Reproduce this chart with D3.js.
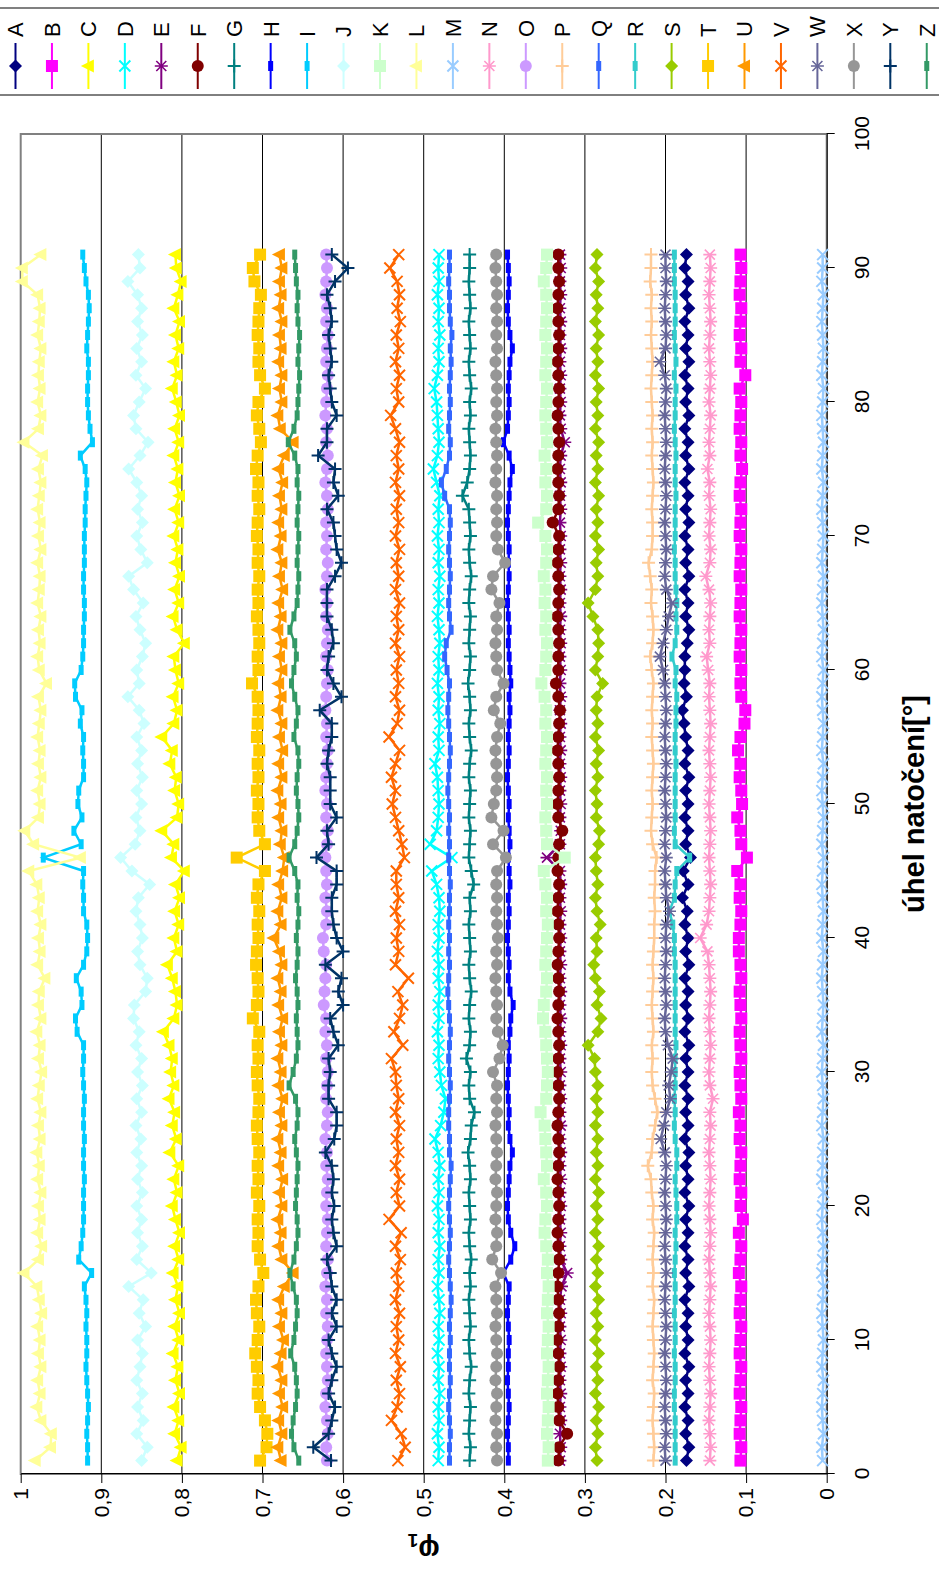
<!DOCTYPE html>
<html><head><meta charset="utf-8">
<script src="https://cdnjs.cloudflare.com/ajax/libs/d3/7.8.5/d3.min.js"></script>
<style>
body{margin:0;background:#fff;}
svg{display:block;}
text{font-family:"Liberation Sans",Arial,sans-serif;fill:#000;}
</style>
</head><body>
<svg id="chart" width="939" height="1570"></svg>
<script>
// ---------- DATA ----------
const angles = [1,2,3,4,5,6,7,8,9,10,11,12,13,14,15,16,17,18,19,20,21,22,23,24,25,26,27,28,29,30,
31,32,33,34,35,36,37,38,39,40,41,42,43,44,45,46,47,48,49,50,51,52,53,54,55,56,57,58,59,60,
61,62,63,64,65,66,67,68,69,70,71,72,73,74,75,76,77,78,79,80,81,82,83,84,85,86,87,88,89,90,91];

const sA = [0.174,0.171,0.175,0.172,0.176,0.172,0.175,0.171,0.176,0.172,
0.175,0.172,0.176,0.171,0.175,0.172,0.176,0.172,0.175,0.171,
0.176,0.172,0.175,0.171,0.176,0.172,0.175,0.172,0.176,0.172,
0.175,0.171,0.176,0.172,0.175,0.172,0.176,0.171,0.175,0.172,
0.176,0.173,0.179,0.172,0.178,0.169,0.175,0.172,0.176,0.172,
0.175,0.171,0.176,0.172,0.175,0.177,0.179,0.174,0.177,0.176,
0.176,0.173,0.171,0.175,0.172,0.176,0.171,0.175,0.172,0.176,
0.171,0.175,0.172,0.176,0.171,0.175,0.172,0.176,0.171,0.175,
0.172,0.176,0.171,0.175,0.172,0.176,0.171,0.175,0.172,0.176,0.174];
const sB = [0.107,0.106,0.108,0.107,0.106,0.108,0.107,0.106,0.108,0.107,
0.106,0.108,0.107,0.106,0.109,0.107,0.106,0.109,0.104,0.107,
0.106,0.108,0.107,0.106,0.108,0.107,0.109,0.106,0.107,0.108,
0.106,0.107,0.108,0.106,0.107,0.108,0.106,0.107,0.109,0.109,
0.107,0.106,0.108,0.107,0.111,0.099,0.106,0.107,0.111,0.105,
0.106,0.108,0.107,0.110,0.107,0.102,0.101,0.106,0.107,0.106,
0.108,0.107,0.106,0.108,0.107,0.106,0.108,0.107,0.106,0.108,
0.107,0.106,0.108,0.107,0.105,0.107,0.106,0.108,0.107,0.106,
0.108,0.101,0.107,0.106,0.108,0.107,0.106,0.108,0.107,0.106,0.107];
const sC = [0.806,0.801,0.809,0.804,0.810,0.803,0.808,0.805,0.811,0.804,
0.809,0.803,0.808,0.805,0.811,0.804,0.809,0.803,0.808,0.812,
0.806,0.810,0.804,0.815,0.807,0.812,0.809,0.816,0.810,0.814,
0.812,0.816,0.823,0.810,0.806,0.808,0.812,0.818,0.806,0.810,
0.804,0.809,0.803,0.808,0.797,0.813,0.810,0.825,0.806,0.804,
0.809,0.807,0.815,0.812,0.825,0.810,0.806,0.811,0.804,0.808,
0.810,0.797,0.806,0.811,0.804,0.809,0.803,0.808,0.805,0.810,
0.804,0.809,0.803,0.808,0.805,0.810,0.804,0.809,0.803,0.807,
0.812,0.806,0.810,0.804,0.808,0.803,0.810,0.805,0.801,0.807,0.808];
const sD = [0.482,0.481,0.483,0.481,0.482,0.480,0.482,0.481,0.483,0.481,
0.482,0.480,0.481,0.483,0.481,0.482,0.480,0.482,0.481,0.483,
0.481,0.482,0.480,0.482,0.486,0.479,0.475,0.473,0.478,0.480,
0.482,0.481,0.483,0.481,0.482,0.480,0.482,0.481,0.483,0.481,
0.482,0.480,0.481,0.484,0.490,0.465,0.492,0.484,0.482,0.481,
0.482,0.483,0.486,0.481,0.482,0.480,0.482,0.481,0.483,0.481,
0.482,0.480,0.481,0.483,0.481,0.482,0.480,0.482,0.481,0.483,
0.481,0.482,0.480,0.484,0.488,0.483,0.481,0.482,0.483,0.484,
0.487,0.483,0.481,0.482,0.480,0.482,0.481,0.483,0.481,0.482,0.481];
const sE = [0.331,0.330,0.331,0.330,0.331,0.330,0.331,0.330,0.331,0.330,
0.331,0.330,0.331,0.329,0.322,0.330,0.331,0.330,0.331,0.330,
0.331,0.330,0.331,0.330,0.331,0.330,0.331,0.330,0.331,0.330,
0.331,0.330,0.331,0.330,0.331,0.330,0.331,0.330,0.331,0.330,
0.331,0.330,0.331,0.330,0.331,0.347,0.331,0.330,0.331,0.330,
0.331,0.330,0.331,0.330,0.331,0.330,0.331,0.330,0.331,0.330,
0.331,0.330,0.331,0.330,0.331,0.330,0.331,0.330,0.331,0.330,
0.331,0.330,0.331,0.330,0.331,0.330,0.325,0.330,0.331,0.330,
0.331,0.330,0.331,0.330,0.331,0.330,0.331,0.330,0.331,0.330,0.331];
const sF = [0.333,0.332,0.322,0.332,0.333,0.334,0.333,0.332,0.333,0.334,
0.333,0.332,0.333,0.334,0.333,0.332,0.333,0.334,0.333,0.332,
0.333,0.334,0.333,0.332,0.333,0.334,0.333,0.332,0.333,0.334,
0.333,0.332,0.333,0.334,0.333,0.332,0.333,0.334,0.333,0.332,
0.333,0.334,0.333,0.332,0.334,0.333,0.332,0.328,0.333,0.334,
0.333,0.332,0.333,0.334,0.333,0.332,0.331,0.333,0.336,0.333,
0.333,0.332,0.333,0.334,0.333,0.332,0.333,0.334,0.333,0.332,
0.340,0.333,0.332,0.333,0.334,0.333,0.332,0.333,0.334,0.333,
0.332,0.333,0.334,0.333,0.332,0.333,0.334,0.333,0.332,0.333,0.333];
const sG = [0.443,0.442,0.444,0.443,0.442,0.444,0.443,0.441,0.443,0.444,
0.442,0.443,0.444,0.442,0.443,0.441,0.443,0.444,0.442,0.443,
0.444,0.442,0.443,0.445,0.442,0.441,0.437,0.443,0.444,0.442,
0.447,0.443,0.442,0.444,0.443,0.441,0.443,0.444,0.442,0.443,
0.444,0.442,0.443,0.438,0.441,0.444,0.443,0.442,0.444,0.443,
0.442,0.444,0.443,0.441,0.443,0.444,0.442,0.443,0.445,0.443,
0.442,0.444,0.443,0.442,0.444,0.443,0.441,0.443,0.444,0.442,
0.443,0.444,0.452,0.446,0.443,0.442,0.443,0.444,0.442,0.443,
0.441,0.443,0.444,0.442,0.443,0.444,0.442,0.443,0.444,0.443,0.443];
const sH = [0.395,0.395,0.396,0.395,0.394,0.395,0.396,0.395,0.395,0.394,
0.395,0.396,0.395,0.394,0.401,0.392,0.387,0.392,0.395,0.396,
0.395,0.394,0.393,0.390,0.393,0.395,0.394,0.395,0.396,0.395,
0.394,0.395,0.393,0.392,0.389,0.393,0.395,0.394,0.395,0.396,
0.395,0.394,0.395,0.393,0.394,0.395,0.393,0.394,0.395,0.394,
0.395,0.396,0.395,0.394,0.395,0.394,0.393,0.394,0.392,0.393,
0.394,0.395,0.394,0.395,0.396,0.395,0.394,0.395,0.394,0.395,
0.396,0.395,0.394,0.393,0.390,0.394,0.401,0.396,0.395,0.394,
0.395,0.394,0.393,0.390,0.393,0.395,0.396,0.395,0.394,0.395,0.396];
const sI = [0.917,0.917,0.918,0.917,0.916,0.917,0.918,0.919,0.918,0.918,
0.919,0.918,0.919,0.921,0.912,0.928,0.925,0.923,0.922,0.922,
0.922,0.921,0.922,0.922,0.921,0.922,0.922,0.921,0.922,0.923,
0.922,0.922,0.930,0.932,0.924,0.925,0.931,0.922,0.918,0.917,
0.918,0.922,0.922,0.923,0.922,0.972,0.925,0.934,0.924,0.929,
0.928,0.922,0.922,0.923,0.922,0.926,0.924,0.932,0.933,0.925,
0.923,0.922,0.922,0.921,0.921,0.922,0.922,0.921,0.921,0.921,
0.920,0.920,0.919,0.918,0.920,0.926,0.911,0.914,0.916,0.917,
0.917,0.916,0.916,0.918,0.917,0.916,0.915,0.916,0.919,0.921,0.923];
const sJ = [0.850,0.843,0.856,0.848,0.855,0.849,0.856,0.852,0.849,0.855,
0.845,0.853,0.848,0.866,0.838,0.856,0.849,0.855,0.850,0.856,
0.849,0.855,0.850,0.856,0.851,0.857,0.850,0.856,0.849,0.855,
0.850,0.857,0.853,0.860,0.859,0.845,0.843,0.852,0.855,0.849,
0.852,0.857,0.854,0.840,0.862,0.876,0.858,0.852,0.857,0.850,
0.856,0.849,0.855,0.850,0.856,0.847,0.853,0.867,0.853,0.856,
0.849,0.845,0.852,0.857,0.848,0.860,0.866,0.843,0.851,0.856,
0.849,0.855,0.850,0.856,0.866,0.852,0.842,0.857,0.860,0.853,
0.845,0.857,0.850,0.856,0.849,0.855,0.850,0.855,0.867,0.852,0.854];
const sK = [0.346,0.345,0.347,0.346,0.345,0.347,0.346,0.345,0.347,0.346,
0.345,0.347,0.346,0.345,0.347,0.346,0.348,0.350,0.349,0.347,
0.348,0.351,0.347,0.348,0.349,0.350,0.355,0.348,0.347,0.346,
0.347,0.348,0.349,0.352,0.351,0.348,0.347,0.349,0.348,0.347,
0.346,0.348,0.347,0.349,0.351,0.325,0.347,0.348,0.349,0.347,
0.348,0.347,0.349,0.348,0.347,0.349,0.348,0.350,0.354,0.349,
0.348,0.347,0.349,0.348,0.350,0.349,0.351,0.348,0.347,0.349,
0.358,0.348,0.347,0.349,0.348,0.350,0.347,0.348,0.349,0.348,
0.347,0.349,0.348,0.347,0.349,0.348,0.347,0.348,0.351,0.348,0.347];
const sL = [0.982,0.963,0.962,0.975,0.980,0.976,0.979,0.975,0.978,0.976,
0.979,0.974,0.977,0.980,0.996,0.978,0.974,0.979,0.976,0.978,
0.975,0.979,0.977,0.980,0.976,0.978,0.975,0.979,0.977,0.974,
0.978,0.976,0.980,0.975,0.978,0.977,0.970,0.979,0.976,0.978,
0.975,0.979,0.977,0.980,0.990,0.926,0.984,0.995,0.978,0.976,
0.979,0.975,0.978,0.976,0.979,0.977,0.975,0.978,0.968,0.977,
0.979,0.976,0.978,0.975,0.979,0.977,0.976,0.979,0.975,0.978,
0.976,0.979,0.977,0.975,0.978,0.973,0.996,0.978,0.975,0.979,
0.976,0.978,0.977,0.975,0.979,0.977,0.976,0.979,0.998,0.998,0.975];
const sM = [0.005,0.006,0.004,0.005,0.006,0.005,0.004,0.006,0.005,0.004,
0.005,0.006,0.005,0.004,0.006,0.005,0.004,0.005,0.006,0.005,
0.004,0.006,0.005,0.005,0.004,0.006,0.005,0.004,0.005,0.006,
0.005,0.004,0.006,0.005,0.004,0.005,0.006,0.005,0.004,0.006,
0.005,0.004,0.005,0.006,0.005,0.004,0.006,0.005,0.004,0.005,
0.006,0.005,0.004,0.006,0.005,0.004,0.005,0.006,0.005,0.004,
0.006,0.005,0.004,0.005,0.006,0.005,0.004,0.006,0.005,0.004,
0.005,0.006,0.005,0.004,0.006,0.005,0.004,0.005,0.006,0.005,
0.004,0.006,0.005,0.004,0.005,0.006,0.005,0.004,0.006,0.005,0.005];
const sN = [0.145,0.144,0.145,0.146,0.145,0.144,0.145,0.146,0.145,0.144,
0.145,0.146,0.145,0.144,0.145,0.146,0.145,0.144,0.145,0.146,
0.145,0.144,0.145,0.146,0.145,0.144,0.145,0.141,0.145,0.146,
0.145,0.144,0.145,0.146,0.145,0.144,0.145,0.146,0.148,0.157,
0.149,0.146,0.145,0.144,0.145,0.146,0.145,0.144,0.145,0.146,
0.145,0.144,0.145,0.146,0.145,0.144,0.145,0.146,0.145,0.147,
0.149,0.145,0.146,0.145,0.144,0.146,0.150,0.145,0.144,0.146,
0.145,0.144,0.146,0.145,0.148,0.145,0.146,0.145,0.144,0.146,
0.145,0.144,0.145,0.146,0.145,0.144,0.145,0.146,0.145,0.144,0.145];
const sO = [0.620,0.621,0.619,0.620,0.622,0.621,0.619,0.620,0.621,0.620,
0.619,0.621,0.620,0.622,0.620,0.619,0.621,0.620,0.619,0.621,
0.620,0.619,0.621,0.620,0.622,0.620,0.619,0.621,0.620,0.619,
0.621,0.620,0.622,0.621,0.624,0.623,0.622,0.621,0.624,0.625,
0.621,0.620,0.622,0.620,0.621,0.622,0.620,0.619,0.621,0.620,
0.622,0.621,0.620,0.619,0.621,0.620,0.622,0.621,0.620,0.619,
0.621,0.620,0.619,0.621,0.620,0.622,0.620,0.619,0.621,0.620,
0.621,0.619,0.620,0.622,0.620,0.619,0.621,0.620,0.622,0.621,
0.620,0.619,0.621,0.620,0.619,0.621,0.620,0.622,0.621,0.620,0.621];
const sP = [0.215,0.214,0.215,0.216,0.215,0.214,0.216,0.215,0.214,0.215,
0.216,0.215,0.214,0.216,0.215,0.216,0.215,0.214,0.216,0.215,
0.217,0.218,0.222,0.217,0.216,0.213,0.210,0.213,0.216,0.217,
0.216,0.217,0.215,0.216,0.217,0.216,0.215,0.216,0.215,0.214,
0.214,0.213,0.214,0.213,0.213,0.211,0.216,0.218,0.217,0.216,
0.217,0.216,0.215,0.216,0.217,0.216,0.217,0.216,0.215,0.217,
0.219,0.216,0.215,0.216,0.218,0.217,0.219,0.221,0.217,0.216,
0.216,0.217,0.216,0.215,0.216,0.217,0.216,0.217,0.216,0.217,
0.218,0.217,0.216,0.217,0.218,0.217,0.218,0.217,0.219,0.218,0.218];
const sQ = [0.468,0.468,0.467,0.468,0.469,0.468,0.467,0.468,0.468,0.467,
0.468,0.467,0.466,0.467,0.468,0.469,0.468,0.467,0.468,0.469,
0.468,0.467,0.466,0.468,0.468,0.469,0.469,0.468,0.467,0.468,
0.469,0.468,0.467,0.468,0.469,0.470,0.469,0.468,0.469,0.468,
0.469,0.468,0.468,0.467,0.468,0.469,0.468,0.469,0.468,0.469,
0.470,0.469,0.468,0.467,0.468,0.469,0.470,0.469,0.468,0.471,
0.474,0.472,0.466,0.468,0.469,0.468,0.467,0.468,0.469,0.468,
0.467,0.468,0.474,0.478,0.472,0.468,0.467,0.469,0.468,0.467,
0.468,0.467,0.466,0.467,0.465,0.467,0.468,0.468,0.469,0.468,0.468];
const sR = [0.188,0.188,0.188,0.188,0.189,0.189,0.188,0.188,0.189,0.188,
0.188,0.189,0.188,0.188,0.189,0.188,0.187,0.188,0.186,0.186,
0.187,0.188,0.186,0.186,0.188,0.189,0.188,0.189,0.188,0.188,
0.188,0.187,0.188,0.188,0.188,0.188,0.188,0.188,0.189,0.189,
0.191,0.195,0.189,0.188,0.186,0.170,0.188,0.189,0.188,0.188,
0.188,0.188,0.187,0.188,0.188,0.187,0.187,0.186,0.188,0.187,
0.192,0.188,0.186,0.187,0.186,0.187,0.188,0.188,0.189,0.188,
0.188,0.188,0.187,0.188,0.188,0.187,0.188,0.189,0.188,0.188,
0.187,0.189,0.187,0.188,0.189,0.188,0.188,0.188,0.189,0.189,0.189];
const sS = [0.285,0.287,0.284,0.286,0.283,0.287,0.284,0.286,0.283,0.287,
0.284,0.286,0.283,0.287,0.284,0.286,0.283,0.287,0.284,0.286,
0.283,0.287,0.284,0.286,0.284,0.287,0.284,0.286,0.284,0.287,
0.288,0.296,0.284,0.280,0.285,0.282,0.287,0.289,0.285,0.286,
0.281,0.285,0.287,0.284,0.286,0.287,0.283,0.282,0.286,0.285,
0.287,0.284,0.286,0.283,0.287,0.284,0.286,0.285,0.278,0.287,
0.284,0.283,0.284,0.290,0.296,0.287,0.284,0.286,0.283,0.287,
0.284,0.286,0.283,0.287,0.284,0.286,0.283,0.287,0.284,0.286,
0.283,0.287,0.284,0.286,0.283,0.287,0.284,0.286,0.283,0.287,0.285];
const sT = [0.703,0.695,0.694,0.697,0.703,0.706,0.705,0.707,0.709,0.706,
0.704,0.707,0.708,0.705,0.699,0.703,0.706,0.705,0.706,0.704,
0.707,0.705,0.706,0.704,0.706,0.707,0.705,0.704,0.706,0.707,
0.705,0.706,0.704,0.712,0.707,0.705,0.706,0.708,0.707,0.705,
0.706,0.704,0.707,0.705,0.697,0.732,0.697,0.704,0.706,0.705,
0.707,0.705,0.706,0.704,0.707,0.706,0.705,0.706,0.713,0.705,
0.706,0.704,0.705,0.707,0.705,0.706,0.704,0.706,0.705,0.707,
0.706,0.704,0.706,0.705,0.708,0.706,0.702,0.704,0.707,0.705,
0.697,0.703,0.705,0.704,0.706,0.705,0.704,0.702,0.710,0.712,0.703];
const sU = [0.677,0.681,0.676,0.680,0.675,0.679,0.676,0.681,0.677,0.674,
0.679,0.676,0.680,0.673,0.662,0.676,0.680,0.677,0.681,0.676,
0.679,0.675,0.680,0.677,0.681,0.676,0.679,0.675,0.680,0.677,
0.681,0.676,0.679,0.675,0.680,0.677,0.681,0.676,0.679,0.686,
0.677,0.681,0.676,0.680,0.675,0.673,0.678,0.676,0.680,0.677,
0.681,0.676,0.680,0.675,0.679,0.676,0.681,0.677,0.680,0.676,
0.679,0.676,0.681,0.677,0.680,0.675,0.679,0.676,0.681,0.677,
0.680,0.676,0.679,0.675,0.680,0.673,0.662,0.678,0.681,0.676,
0.679,0.676,0.680,0.677,0.679,0.676,0.680,0.677,0.679,0.676,0.679];
const sV = [0.532,0.523,0.528,0.540,0.533,0.530,0.534,0.529,0.535,0.531,
0.534,0.530,0.535,0.531,0.534,0.529,0.535,0.528,0.543,0.530,
0.534,0.530,0.535,0.531,0.534,0.530,0.535,0.531,0.534,0.535,
0.540,0.526,0.537,0.530,0.526,0.532,0.519,0.535,0.531,0.534,
0.530,0.535,0.531,0.534,0.534,0.524,0.527,0.531,0.535,0.539,
0.535,0.540,0.535,0.530,0.543,0.533,0.530,0.535,0.531,0.534,
0.530,0.535,0.531,0.534,0.530,0.535,0.531,0.534,0.530,0.535,
0.531,0.534,0.530,0.535,0.531,0.534,0.530,0.535,0.541,0.531,
0.534,0.530,0.535,0.531,0.534,0.529,0.533,0.530,0.533,0.542,0.531];
const sW = [0.200,0.201,0.199,0.200,0.201,0.200,0.199,0.200,0.201,0.200,
0.199,0.200,0.201,0.200,0.199,0.200,0.201,0.200,0.199,0.200,
0.201,0.200,0.199,0.201,0.206,0.202,0.199,0.194,0.196,0.193,
0.191,0.197,0.200,0.201,0.199,0.200,0.201,0.200,0.199,0.200,
0.199,0.195,0.199,0.200,0.201,0.199,0.201,0.200,0.199,0.200,
0.201,0.200,0.199,0.200,0.201,0.200,0.199,0.200,0.201,0.203,
0.207,0.203,0.199,0.196,0.192,0.199,0.201,0.200,0.199,0.200,
0.201,0.200,0.199,0.200,0.201,0.200,0.199,0.200,0.201,0.200,
0.199,0.201,0.207,0.200,0.199,0.200,0.201,0.200,0.199,0.200,0.200];
const sX = [0.409,0.410,0.409,0.411,0.410,0.409,0.411,0.410,0.409,0.410,
0.411,0.409,0.410,0.411,0.404,0.415,0.410,0.409,0.411,0.410,
0.409,0.411,0.410,0.409,0.410,0.411,0.409,0.410,0.409,0.414,
0.406,0.402,0.408,0.410,0.409,0.410,0.411,0.409,0.410,0.408,
0.409,0.410,0.409,0.410,0.409,0.398,0.414,0.401,0.416,0.413,
0.410,0.409,0.410,0.411,0.409,0.405,0.413,0.410,0.401,0.409,
0.410,0.411,0.409,0.410,0.406,0.416,0.414,0.399,0.408,0.410,
0.409,0.410,0.409,0.411,0.410,0.409,0.410,0.411,0.409,0.410,
0.409,0.410,0.411,0.409,0.410,0.409,0.410,0.409,0.410,0.411,0.410];
const sY = [0.615,0.637,0.618,0.614,0.610,0.618,0.614,0.608,0.614,0.618,
0.608,0.614,0.608,0.614,0.616,0.620,0.608,0.612,0.614,0.611,
0.614,0.612,0.614,0.622,0.611,0.608,0.608,0.618,0.618,0.616,
0.618,0.606,0.612,0.616,0.600,0.606,0.602,0.622,0.600,0.608,
0.612,0.614,0.614,0.608,0.608,0.633,0.618,0.620,0.608,0.616,
0.616,0.616,0.620,0.618,0.614,0.614,0.629,0.602,0.612,0.620,
0.618,0.612,0.614,0.620,0.620,0.620,0.610,0.602,0.608,0.610,
0.612,0.620,0.606,0.612,0.610,0.631,0.620,0.620,0.608,0.614,
0.616,0.618,0.614,0.616,0.618,0.614,0.616,0.620,0.610,0.594,0.614];
const sZ = [0.655,0.661,0.664,0.662,0.659,0.657,0.658,0.660,0.665,0.661,
0.659,0.657,0.658,0.662,0.666,0.661,0.658,0.656,0.657,0.659,
0.658,0.657,0.656,0.658,0.660,0.657,0.656,0.659,0.667,0.662,
0.658,0.656,0.657,0.658,0.656,0.657,0.659,0.657,0.656,0.658,
0.656,0.655,0.657,0.656,0.660,0.667,0.660,0.657,0.655,0.656,
0.658,0.657,0.655,0.656,0.661,0.658,0.656,0.660,0.664,0.661,
0.658,0.660,0.666,0.661,0.657,0.656,0.655,0.657,0.656,0.655,
0.657,0.656,0.655,0.657,0.656,0.660,0.668,0.661,0.657,0.656,
0.655,0.654,0.656,0.655,0.654,0.656,0.657,0.656,0.658,0.659,0.660];

const seriesNames = ["A","B","C","D","E","F","G","H","I","J","K","L","M","N","O","P","Q","R","S","T","U","V","W","X","Y","Z"];
const seriesValues = [sA,sB,sC,sD,sE,sF,sG,sH,sI,sJ,sK,sL,sM,sN,sO,sP,sQ,sR,sS,sT,sU,sV,sW,sX,sY,sZ];
const seriesColors = ["#000080","#FF00FF","#FFFF00","#00FFFF","#800080","#800000","#008080","#0000FF","#00CCFF","#CCFFFF","#CCFFCC","#FFFF99","#99CCFF","#FF99CC","#CC99FF","#FFCC99","#3366FF","#33CCCC","#99CC00","#FFCC00","#FF9900","#FF6600","#666699","#969696","#003366","#339966"];
const seriesMarkers = ["diamond","square","triangle","x","star","circle","plus","dash","dash","diamond","square","triangle","x","star","circle","plus","dash","dash","diamond","square","triangle","x","star","circle","plus","dash"];
const xTicks = [0,10,20,30,40,50,60,70,80,90,100];
const yTicks = [0,0.1,0.2,0.3,0.4,0.5,0.6,0.7,0.8,0.9,1];
const xTitle = "úhel natočení[°]";

// ---------- DRAWING ----------
const W = 939, H = 1570;
const svg = d3.select("#chart");
svg.append("rect").attr("width", W).attr("height", H).attr("fill", "#fff");
// whole chart is drawn in its original orientation, then turned 90° counter-clockwise
const g = svg.append("g").attr("transform", `translate(0,${H}) rotate(-90)`);

const x = d3.scaleLinear().domain([0, 100]).range([96, 1436]);
const y = d3.scaleLinear().domain([0, 1]).range([826.7, 20.7]);

// gridlines
g.append("g").selectAll("line").data(yTicks.filter(t => t > 0 && t < 1)).join("line")
  .attr("x1", x(0)).attr("x2", x(100)).attr("y1", d => y(d)).attr("y2", d => y(d))
  .attr("stroke", "#000").attr("stroke-width", 1);
// plot area border
g.append("rect").attr("x", x(0)).attr("y", y(1)).attr("width", x(100) - x(0)).attr("height", y(0) - y(1))
  .attr("fill", "none").attr("stroke", "#808080").attr("stroke-width", 2);

const fmt = d => d === 0 ? "0" : d === 1 ? "1" : d3.format(".1f")(d).replace(".", ",");
const yAxis = g.append("g").attr("transform", `translate(${x(0)},0)`)
  .call(d3.axisLeft(y).tickValues(yTicks).tickFormat(fmt).tickSize(9).tickPadding(5).tickSizeOuter(0));
yAxis.selectAll("text").attr("font-size", 21).attr("font-family", "Liberation Sans, Arial, sans-serif").attr("fill", "#000");
yAxis.selectAll("line,path").attr("stroke", "#000");

const xAxis = g.append("g").attr("transform", `translate(0,${y(0)})`)
  .call(d3.axisBottom(x).tickValues(xTicks).tickSize(8).tickPadding(19).tickSizeOuter(0));
xAxis.selectAll("text").attr("font-size", 21).attr("font-family", "Liberation Sans, Arial, sans-serif").attr("fill", "#000");
xAxis.selectAll("line,path").attr("stroke", "#000");

// axis titles
g.append("text").attr("x", (x(0) + x(100)) / 2).attr("y", 924).attr("text-anchor", "middle")
  .attr("font-size", 29).attr("font-weight", "bold").text(xTitle);
const yt = g.append("text").attr("transform", `translate(30,${(y(0) + y(1)) / 2}) rotate(-90)`)
  .attr("text-anchor", "middle").attr("font-size", 30).attr("font-weight", "bold");
yt.append("tspan").text("φ");
yt.append("tspan").attr("font-size", 19).attr("dy", 6).text("1");

// markers
function drawMarker(sel, type, color) {
  switch (type) {
    case "diamond": sel.append("path").attr("d", "M0,-6.5L6.5,0L0,6.5L-6.5,0Z").attr("fill", color); break;
    case "square": sel.append("rect").attr("x", -6).attr("y", -6).attr("width", 12).attr("height", 12).attr("fill", color); break;
    case "triangle": sel.append("path").attr("d", "M0,-7.5L6.5,5.5L-6.5,5.5Z").attr("fill", color); break;
    case "x": sel.append("path").attr("d", "M-5.5,-5.5L5.5,5.5M-5.5,5.5L5.5,-5.5").attr("stroke", color).attr("stroke-width", 2).attr("fill", "none"); break;
    case "star": sel.append("path").attr("d", "M-5,-5L5,5M-5,5L5,-5M0,-6.5L0,6.5").attr("stroke", color).attr("stroke-width", 1.6).attr("fill", "none"); break;
    case "circle": sel.append("circle").attr("r", 6).attr("fill", color); break;
    case "plus": sel.append("path").attr("d", "M-6.5,0L6.5,0M0,-6.5L0,6.5").attr("stroke", color).attr("stroke-width", 2).attr("fill", "none"); break;
    case "dash": sel.append("rect").attr("x", -5).attr("y", -2.5).attr("width", 10).attr("height", 5).attr("fill", color); break;
  }
}

const line = d3.line().x((d, i) => x(angles[i])).y(d => y(d));
const plot = g.append("g");
seriesValues.forEach((vals, si) => {
  const sg = plot.append("g");
  sg.append("path").attr("d", line(vals)).attr("fill", "none")
    .attr("stroke", seriesColors[si]).attr("stroke-width", 2.5);
  vals.forEach((v, i) => {
    const m = sg.append("g").attr("transform", `translate(${x(angles[i])},${y(v)})`);
    drawMarker(m, seriesMarkers[si], seriesColors[si]);
  });
});

// legend
const lg = g.append("g");
lg.append("line").attr("x1", 1562).attr("x2", 1562).attr("y1", -5).attr("y2", 945).attr("stroke", "#808080").attr("stroke-width", 2);
lg.append("line").attr("x1", 1475).attr("x2", 1475).attr("y1", -5).attr("y2", 945).attr("stroke", "#000").attr("stroke-width", 1);
seriesNames.forEach((name, i) => {
  const cy = 15.5 + i * 36.45;
  const it = lg.append("g");
  it.append("line").attr("x1", 1481).attr("x2", 1527).attr("y1", cy).attr("y2", cy)
    .attr("stroke", seriesColors[i]).attr("stroke-width", 2);
  const m = it.append("g").attr("transform", `translate(1504,${cy})`);
  drawMarker(m, seriesMarkers[i], seriesColors[i]);
  it.append("text").attr("x", 1533).attr("y", cy).attr("dy", "0.36em").attr("font-size", 22).text(name);
});
</script>
</body></html>
